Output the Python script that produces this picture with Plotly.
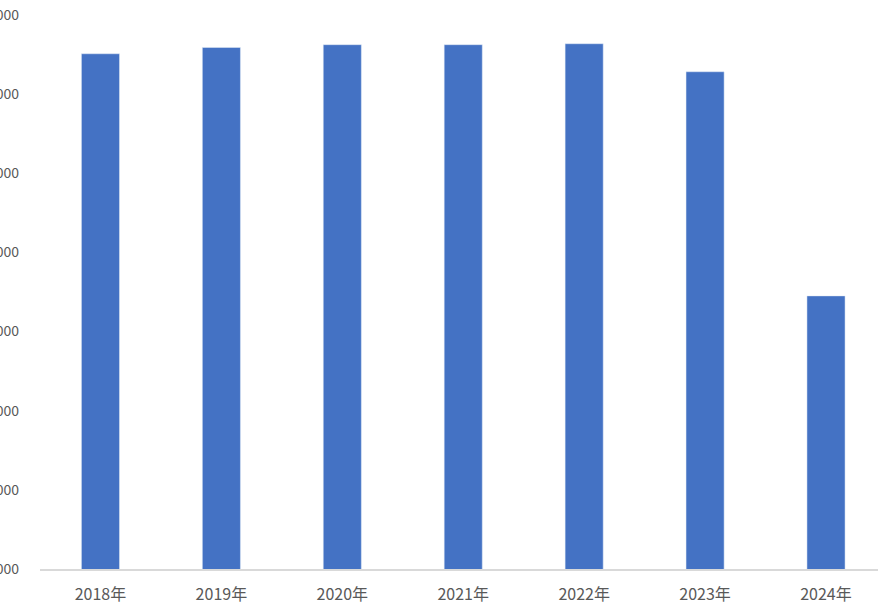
import plotly.graph_objects as go

categories = ["2018年", "2019年", "2020年", "2021年", "2022年", "2023年", "2024年"]
values = [7510, 7590, 7625, 7625, 7637, 7283, 4451]
y_ticks = [1000, 2000, 3000, 4000, 5000, 6000, 7000, 8000]

fig = go.Figure()
fig.add_trace(go.Bar(x=categories, y=values, marker_color="#4472C4", width=0.315,
                     hoverinfo="skip"))

fig.update_layout(
    width=878, height=611,
    margin=dict(l=40, r=0, t=15, b=42),
    paper_bgcolor="white", plot_bgcolor="white",
    showlegend=False,
    font=dict(family="Noto Sans CJK SC, Microsoft YaHei, sans-serif", size=16, color="#595959"),
)
fig.update_xaxes(
    range=[-0.5, 6.43], showline=True, linecolor="#d9d9d9", linewidth=1.5,
    showgrid=False, ticks="", ticklabelstandoff=10, automargin=False,
)
fig.update_yaxes(
    range=[1000, 8000], tickvals=y_ticks, showgrid=False, showline=False,
    zeroline=False, ticks="", ticklabelstandoff=20, automargin=False,
    tickfont=dict(size=14),
)
fig.write_html(
    "out.html",
    config={"displayModeBar": False},
    post_script="document.body.style.margin='0';document.body.style.padding='0';",
)
